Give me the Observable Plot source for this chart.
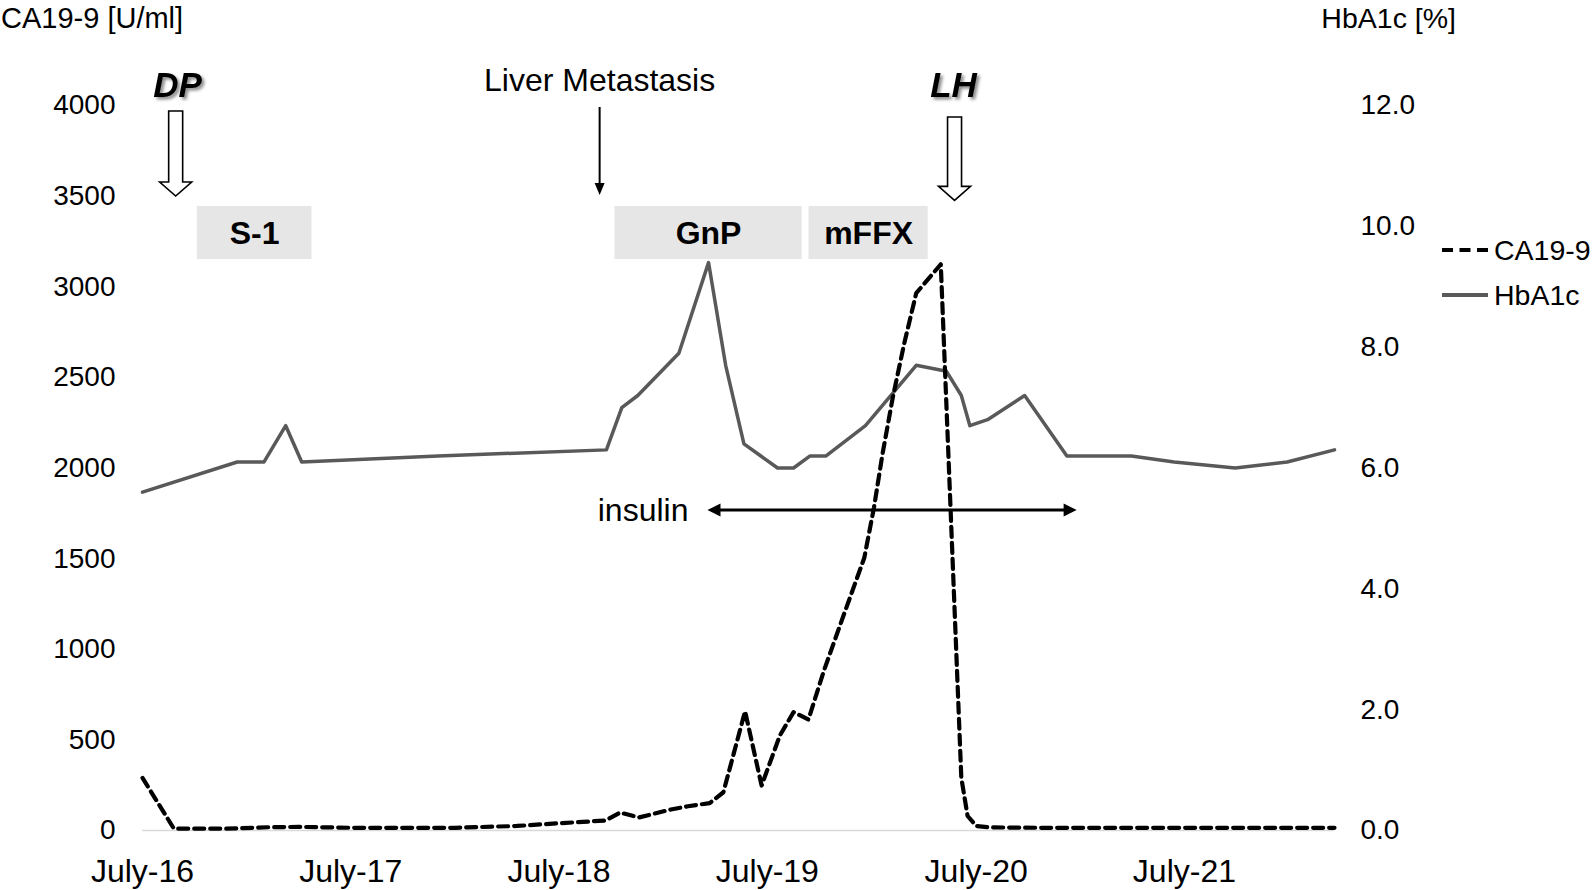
<!DOCTYPE html>
<html>
<head>
<meta charset="utf-8">
<script src="https://cdn.jsdelivr.net/npm/d3@7"></script>
<script src="https://cdn.jsdelivr.net/npm/@observablehq/plot@0.6"></script>
<style>
  body { margin: 0; background: #fff; }
  svg { display: block; }
</style>
</head>
<body>
<div id="chart"></div>
<script>
// ---------- data ----------
const xTickDates  = ["2016-07-01","2017-07-01","2018-07-01","2019-07-01","2020-07-01","2021-07-01"];
const xTickLabels = ["July-16","July-17","July-18","July-19","July-20","July-21"];
const caTicks = [0,500,1000,1500,2000,2500,3000,3500,4000];
const hbTicks = [0,2,4,6,8,10,12];
const caMax = 4000, hbMax = 12;
const xStart = "2016-07-01", xEnd = "2022-03-21";

const seriesNames = ["CA19-9","HbA1c"];
const axisTitles  = ["CA19-9 [U/ml]","HbA1c [%]"];

const hbDates = ["2016-07-01","2016-12-14","2017-01-30","2017-03-09","2017-04-06","2017-12-01",
  "2018-09-22","2018-10-19","2018-11-16","2019-01-27","2019-03-20","2019-04-19","2019-05-21",
  "2019-07-19","2019-08-16","2019-09-14","2019-10-12","2019-12-20","2020-03-18","2020-05-10",
  "2020-06-05","2020-06-20","2020-07-21","2020-09-24","2020-12-07","2021-03-30","2021-06-13",
  "2021-09-28","2021-12-28","2022-03-21"];
const hbValues = [5.6,6.1,6.1,6.7,6.1,6.2,
  6.3,7.0,7.2,7.9,9.4,7.7,6.4,
  6.0,6.0,6.2,6.2,6.7,7.7,7.6,
  7.2,6.7,6.8,7.2,6.2,6.2,6.1,
  6.0,6.1,6.3];

const caDates = ["2016-07-01","2016-08-25","2016-11-25","2017-02-06","2017-04-01","2017-07-01",
  "2018-01-01","2018-04-18","2018-07-01","2018-09-20","2018-10-16","2018-11-18","2019-01-13",
  "2019-02-12","2019-03-22","2019-04-15","2019-05-23","2019-06-21","2019-07-23","2019-08-16",
  "2019-09-11","2019-10-08","2019-11-12","2019-12-18","2020-01-04","2020-01-19","2020-02-06",
  "2020-02-26","2020-03-18","2020-04-30","2020-06-05","2020-06-16","2020-07-01","2020-07-26",
  "2020-10-19","2021-02-06","2021-07-01","2021-10-19","2022-03-21"];
const caValues = [290,10,10,18,20,15,
  15,25,40,55,99,72,116,
  134,151,211,658,248,524,653,
  612,880,1190,1505,1783,2080,2391,
  2688,2965,3124,290,80,25,17,
  15,15,15,15,15];

const treatLabels = ["S-1","GnP","mFFX"];
const treatStarts = ["2016-10-05","2018-10-07","2019-09-12"];
const treatEnds   = ["2017-04-24","2019-08-31","2020-04-08"];

const eventLabels = ["DP","LH"];
const eventDates  = ["2016-08-29","2020-05-25"];
const liverLabel = "Liver Metastasis";
const liverDate  = "2018-09-11";
const insulinLabel = "insulin";
const insulinStart = "2019-03-19";
const insulinEnd   = "2020-12-25";

// ---------- build ----------
const parse = s => new Date(s + "T00:00:00Z");
const k = caMax / hbMax;
const hb = hbDates.map((d, i) => ({date: parse(d), value: hbValues[i]}));
const ca = caDates.map((d, i) => ({date: parse(d), value: caValues[i]}));
const treatments = treatLabels.map((l, i) => ({label: l, start: parse(treatStarts[i]), end: parse(treatEnds[i])}));
const xLabelMap = new Map(xTickDates.map((d, i) => [+parse(d), xTickLabels[i]]));
const FONT = "'Liberation Sans', Arial, Helvetica, sans-serif";

const chart = Plot.plot({
  width: 1593, height: 890,
  marginLeft: 142, marginRight: 259, marginTop: 105, marginBottom: 60,
  style: {fontFamily: FONT, background: "#fff", color: "#000"},
  x: {type: "utc", domain: [parse(xStart), parse(xEnd)], label: null},
  y: {domain: [0, caMax], label: null},
  marks: [
    Plot.ruleY([0], {stroke: "#d9d9d9", strokeWidth: 1.5}),
    Plot.rect(treatments, {x1: "start", x2: "end", y1: 3150, y2: 3443, fill: "#e6e6e6"}),
    Plot.text(treatments, {x: d => new Date((+d.start + +d.end) / 2), y: 3290, text: "label",
      fontSize: 32, fontWeight: "bold", fill: "#000"}),
    Plot.line(hb, {x: "date", y: d => d.value * k, stroke: "#595959", strokeWidth: 3.5}),
    Plot.line(ca, {x: "date", y: "value", stroke: "#000", strokeWidth: 4.2, strokeDasharray: "10,6"}),
    Plot.axisY({ticks: caTicks, tickFormat: d => String(d), tickSize: 0, tickPadding: 27,
      fontSize: 28, label: null}),
    Plot.axisY({anchor: "right", ticks: hbTicks.map(v => v * k), tickFormat: v => (v / k).toFixed(1),
      tickSize: 0, tickPadding: 26, fontSize: 28, label: null}),
    Plot.axisX({ticks: xTickDates.map(parse), tickFormat: d => xLabelMap.get(+d), tickSize: 0,
      tickPadding: 29, fontSize: 32, label: null})
  ]
});
document.getElementById("chart").appendChild(chart);

// ---------- annotations through the plot's scales ----------
const sx = chart.scale("x"), sy = chart.scale("y");
const X = sx.apply ? (d => sx.apply(parse(d))) : (d => d3.scaleUtc(sx.domain, sx.range)(parse(d)));
const Y = sy.apply ? (v => sy.apply(v)) : (v => d3.scaleLinear(sy.domain, sy.range)(v));

const svg = d3.select(chart);
const defs = svg.append("defs");
defs.append("filter").attr("id", "shadow").attr("x", "-20%").attr("y", "-20%").attr("width", "150%").attr("height", "150%")
  .append("feDropShadow").attr("dx", 2.5).attr("dy", 2.5).attr("stdDeviation", 1.5)
  .attr("flood-color", "#000").attr("flood-opacity", 0.45);

const g = svg.append("g").attr("font-family", FONT).attr("text-anchor", "start");

function blockArrow(date, vTop, vTip) {
  const cx = X(date), y1 = Y(vTop), y2 = Y(vTip);
  const sw = 7, hw = 16, hl = 14;
  g.append("path")
    .attr("d", `M${cx - sw},${y1}H${cx + sw}V${y2 - hl}H${cx + hw}L${cx},${y2}L${cx - hw},${y2 - hl}H${cx - sw}Z`)
    .attr("fill", "#fff").attr("stroke", "#000").attr("stroke-width", 1.6);
}
// DP / LH
eventLabels.forEach((lab, i) => {
  const cx = X(eventDates[i]);
  g.append("text").attr("x", cx + (i === 0 ? 2 : -1)).attr("y", Y(4045)).attr("text-anchor", "middle")
    .attr("font-size", 35).attr("font-weight", "bold").attr("font-style", "italic")
    .attr("filter", "url(#shadow)").attr("fill", "#000").text(lab);
});
blockArrow(eventDates[0], 3967, 3498);
blockArrow(eventDates[1], 3934, 3474);

// Liver metastasis
{
  const cx = X(liverDate), y1 = Y(3989), y2 = Y(3503);
  g.append("text").attr("x", cx).attr("y", Y(4075)).attr("text-anchor", "middle")
    .attr("font-size", 32).attr("fill", "#000").text(liverLabel);
  g.append("line").attr("x1", cx).attr("x2", cx).attr("y1", y1).attr("y2", y2 - 10)
    .attr("stroke", "#000").attr("stroke-width", 2);
  g.append("path").attr("d", `M${cx - 5},${y2 - 12}L${cx + 5},${y2 - 12}L${cx},${y2}Z`).attr("fill", "#000");
}

// insulin double arrow
{
  const xa = X(insulinStart), xb = X(insulinEnd), yy = Y(1766);
  const hl = 13, hw = 6.5;
  g.append("line").attr("x1", xa + hl - 2).attr("x2", xb - hl + 2).attr("y1", yy).attr("y2", yy)
    .attr("stroke", "#000").attr("stroke-width", 3);
  g.append("path").attr("d", `M${xa},${yy}L${xa + hl},${yy - hw}L${xa + hl},${yy + hw}Z`).attr("fill", "#000");
  g.append("path").attr("d", `M${xb},${yy}L${xb - hl},${yy - hw}L${xb - hl},${yy + hw}Z`).attr("fill", "#000");
  g.append("text").attr("x", xa - 19).attr("y", Y(1705)).attr("text-anchor", "end")
    .attr("font-size", 32).attr("fill", "#000").text(insulinLabel);
}

// axis titles
g.append("text").attr("x", 1).attr("y", 28).attr("text-anchor", "start").attr("font-size", 29).attr("fill", "#000").text(axisTitles[0]);
g.append("text").attr("x", 1456).attr("y", 28).attr("text-anchor", "end").attr("font-size", 28.5).attr("fill", "#000").text(axisTitles[1]);

// legend
const leg = g.append("g");
leg.append("line").attr("x1", 1442).attr("x2", 1488).attr("y1", 250).attr("y2", 250)
  .attr("stroke", "#000").attr("stroke-width", 4).attr("stroke-dasharray", "11,6.5");
leg.append("text").attr("x", 1494).attr("y", 260).attr("text-anchor", "start").attr("font-size", 28.5).attr("fill", "#000").text(seriesNames[0]);
leg.append("line").attr("x1", 1442).attr("x2", 1488).attr("y1", 295).attr("y2", 295)
  .attr("stroke", "#595959").attr("stroke-width", 4);
leg.append("text").attr("x", 1494).attr("y", 305).attr("text-anchor", "start").attr("font-size", 28.5).attr("fill", "#000").text(seriesNames[1]);
</script>
</body>
</html>
